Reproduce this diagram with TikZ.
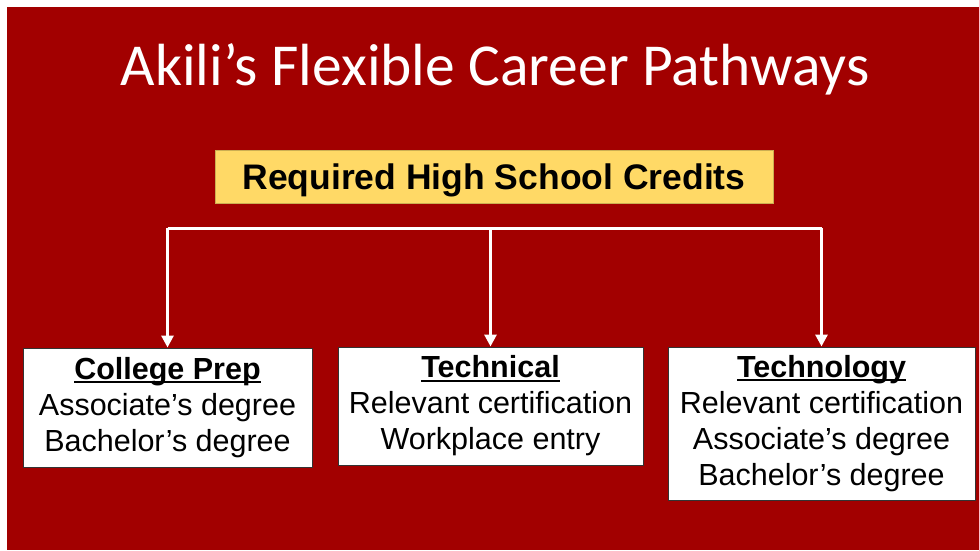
\documentclass[tikz,border=0pt]{standalone}
\usepackage{fontspec}
\setmainfont{Liberation Sans}
\newfontfamily\titlefont{Carlito}
\usetikzlibrary{arrows.meta}
\newcommand{\pathhead}[1]{\textbf{\setbox0\hbox{#1}\rlap{\rule[-4pt]{\wd0}{2pt}}\box0}}
\definecolor{slidered}{RGB}{162,0,0}
\definecolor{creditgold}{RGB}{255,217,102}
\tikzset{x=1pt,y=-1pt,
    pathbox/.style={draw=black!80,line width=1pt,fill=white,align=center,
        inner sep=0pt,font=\fontsize{30.5}{36}\selectfont},
    feed/.style={draw=white,line width=3pt},
    }

\begin{document}
\begin{tikzpicture}
	\fill[white] (0,0) rectangle (979,550);
	\fill[slidered] (7,7) rectangle (979,550);
	\node[anchor=base,text=white,font=\titlefont\fontsize{59.5}{72}\selectfont] (title) at (495,85) {Akili’s Flexible Career Pathways};
	\node[draw=creditgold!80!black,line width=0.8pt,fill=creditgold,minimum width=558pt,minimum height=53pt,inner sep=0pt,
		text depth=0pt,font=\bfseries\fontsize{35.5}{42}\selectfont] (credits) at (494,176.5) {Required High School Credits};
	\node[pathbox,minimum width=289pt,minimum height=119pt] (prep) at (167.5,407.5)
		{\pathhead{College Prep}\\Associate’s degree\\Bachelor’s degree};
	\node[pathbox,minimum width=305pt,minimum height=118pt] (technical) at (490.5,406)
		{\pathhead{Technical}\\Relevant certification\\Workplace entry};
	\node[pathbox,minimum width=307pt,minimum height=153pt] (technology) at (821.5,423.5)
		{\pathhead{Technology}\\Relevant certification\\Associate’s degree\\Bachelor’s degree};
	\coordinate (bus) at (490.5,228);
	\draw[feed] (prep.north |- bus) -- (technology.north |- bus);
	\draw[feed,-{Triangle[width=12pt,length=12pt]}] (prep.north |- bus) -- (prep.north);
	\draw[feed,-{Triangle[width=12pt,length=12pt]}] (bus) -- (technical.north);
	\draw[feed,-{Triangle[width=12pt,length=12pt]}] (technology.north |- bus) -- (technology.north);
\end{tikzpicture}
\end{document}
